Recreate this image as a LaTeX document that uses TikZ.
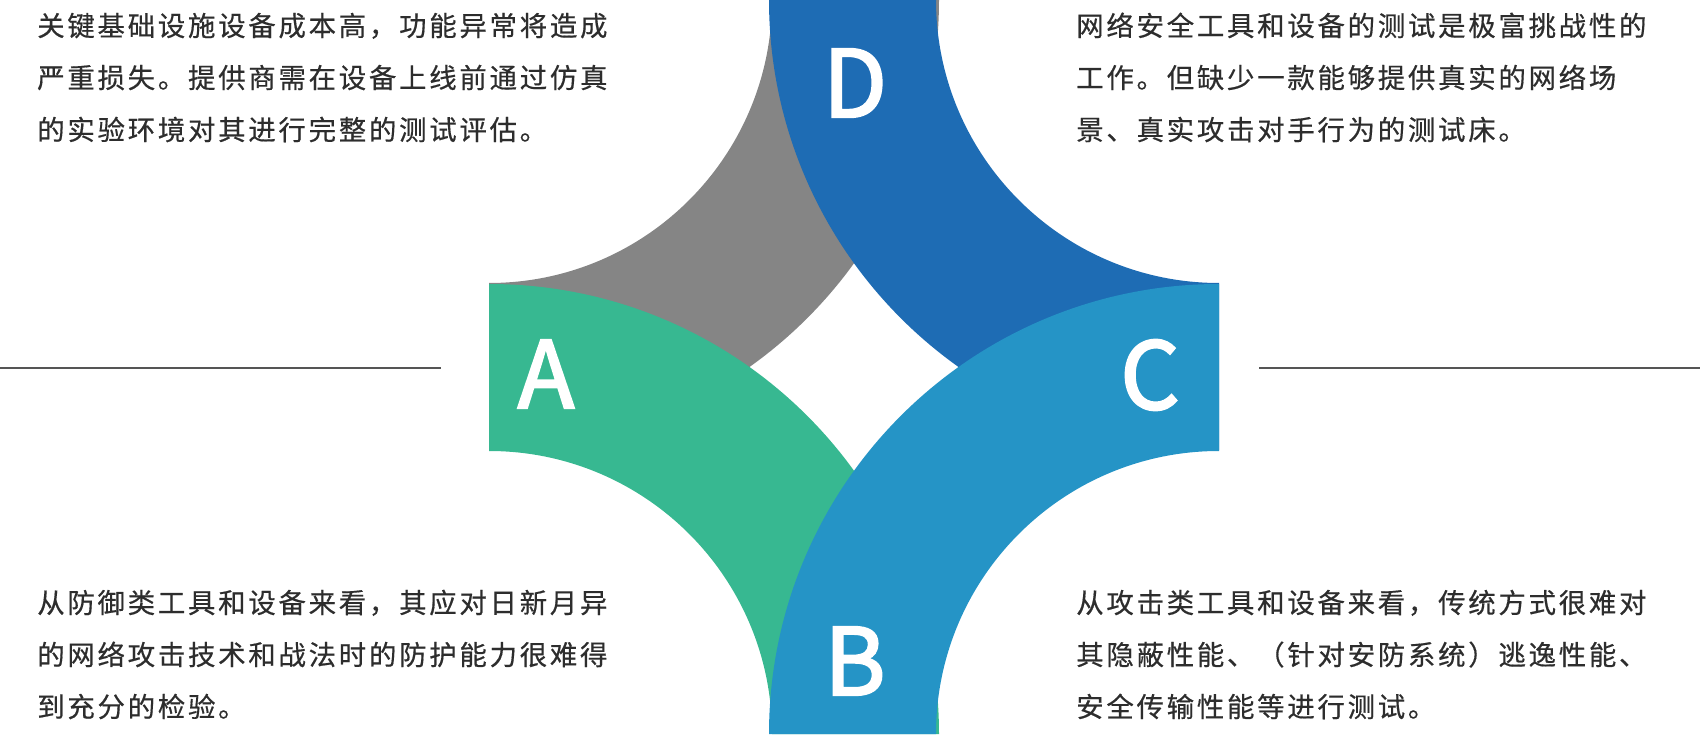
\documentclass[tikz,border=0pt]{standalone}
\usepackage{color}
\usepackage{fontspec}
\usepackage{tikz}
\usetikzlibrary{shapes,arrows,positioning}
\newfontfamily\cjkfont[LetterSpace=10,FakeBold=0.5]{Noto Sans CJK SC}
\newfontfamily\capfont[FakeBold=2.5]{Noto Sans CJK SC}
\definecolor{greyband}{RGB}{133,133,133}
\definecolor{darkband}{RGB}{30,108,180}
\definecolor{greenband}{RGB}{55,184,145}
\definecolor{lightband}{RGB}{37,148,198}
\definecolor{textgrey}{RGB}{45,45,45}
\definecolor{rulegrey}{RGB}{85,85,85}
\begin{document}
\begin{tikzpicture}[x=0.25mm, y=0.25mm,
	letter/.style={inner sep=0pt, text=white, font=\capfont\fontsize{66pt}{66pt}\selectfont},
	blurb/.style={inner sep=0pt, anchor=base west, align=left, text=textgrey, font=\cjkfont\fontsize{19.5pt}{37pt}\selectfont},
	rule/.style={draw=rulegrey, line width=1pt}]
				\useasboundingbox (0,0) rectangle (1700,734);
				\fill [greyband] (489,284) arc[start angle=270, end angle=360, radius=450] -- (772,734) arc[start angle=0, end angle=-90, radius=283] -- cycle;
				\fill [darkband] (769,734) arc[start angle=180, end angle=270, radius=450] -- (1219,451) arc[start angle=270, end angle=180, radius=283] -- cycle;
				\fill [greenband] (939,0) arc[start angle=0, end angle=90, radius=450] -- (489,283) arc[start angle=90, end angle=0, radius=283] -- cycle;
				\fill [lightband] (1219,450) arc[start angle=90, end angle=180, radius=450] -- (936,0) arc[start angle=180, end angle=90, radius=283] -- cycle;
				\node [letter] (A) at (546,360) {A};
				\node [letter] (B) at (855,73) {B};
				\node [letter] (C) at (1150,359) {C};
				\node [letter] (D) at (855,651) {D};
				\coordinate (leftend) at (0,366);
				\coordinate (leftstop) at (441,366);
				\coordinate (rightstart) at (1259,366);
				\coordinate (rightend) at (1700,366);
				\draw [rule] (leftend) -- (leftstop);
				\draw [rule] (rightstart) -- (rightend);
				\node [blurb] (infra) at (37,594) {关键基础设施设备成本高，功能异常将造成\\严重损失。提供商需在设备上线前通过仿真\\的实验环境对其进行完整的测试评估。};
				\node [blurb] (testbed) at (1076,594) {网络安全工具和设备的测试是极富挑战性的\\工作。但缺少一款能够提供真实的网络场\\景、真实攻击对手行为的测试床。};
				\node [blurb] (defence) at (37,17) {从防御类工具和设备来看，其应对日新月异\\的网络攻击技术和战法时的防护能力很难得\\到充分的检验。};
				\node [blurb] (attack) at (1076,17) {从攻击类工具和设备来看，传统方式很难对\\其隐蔽性能、（针对安防系统）逃逸性能、\\安全传输性能等进行测试。};
				\end{tikzpicture}
\end{document}
